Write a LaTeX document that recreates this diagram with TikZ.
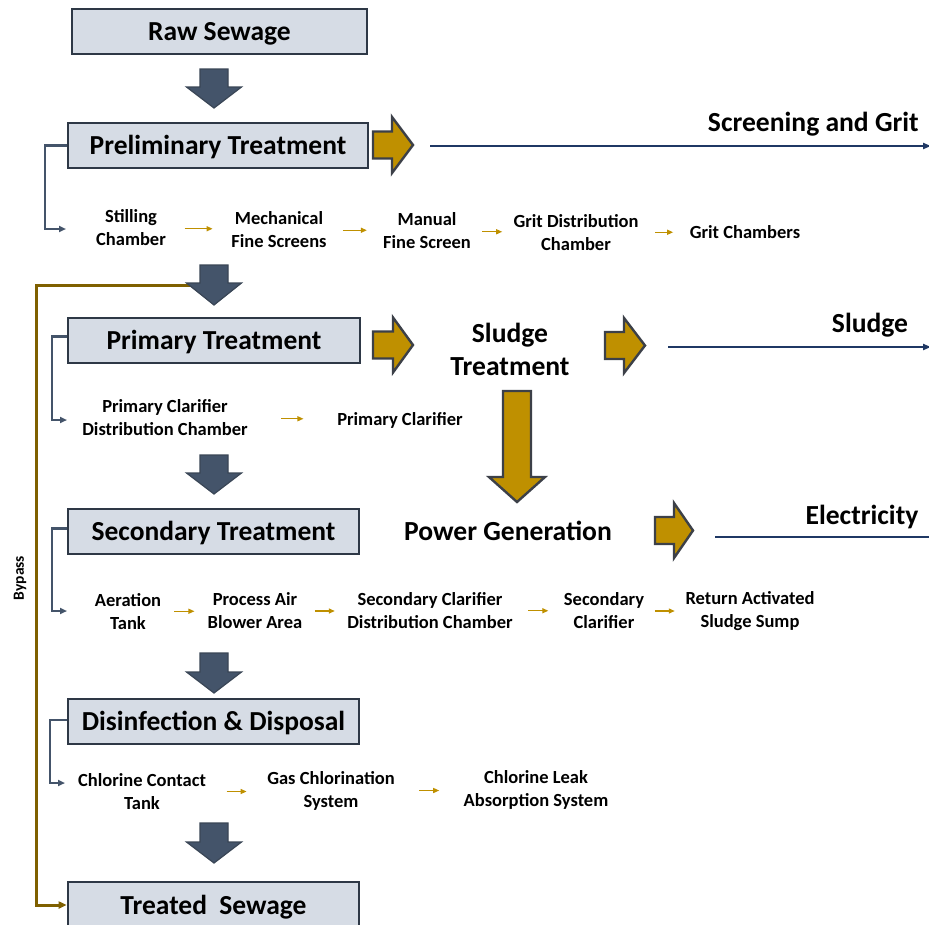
\documentclass[tikz,border=0pt]{standalone}
\usepackage{fontspec}
\setmainfont{Carlito}
\usetikzlibrary{arrows.meta,calc}
\definecolor{boxfill}{HTML}{D6DCE5}
\definecolor{boxline}{HTML}{2E3846}
\definecolor{darkarr}{HTML}{44546A}
\definecolor{darkarrline}{HTML}{3A4656}
\definecolor{gold}{HTML}{BF9000}
\definecolor{goldline}{HTML}{3C4048}
\definecolor{navy}{HTML}{1F3864}
\definecolor{elbowc}{HTML}{44546A}
\definecolor{bypassc}{HTML}{7F6000}
% style, cx, top, headstart, halfshaft, halfhead, tip
\newcommand\BlkDown[7]{\draw[#1] ({#2-#5},#3) -- ({#2+#5},#3) -- ({#2+#5},#4) -- ({#2+#6},#4) -- (#2,#7) -- ({#2-#6},#4) -- ({#2-#5},#4) -- cycle;}
% style, cy, left, headstart, halfshaft, halfhead, tip
\newcommand\BlkRight[7]{\draw[#1] (#3,{#2-#5}) -- (#4,{#2-#5}) -- (#4,{#2-#6}) -- (#7,#2) -- (#4,{#2+#6}) -- (#4,{#2+#5}) -- (#3,{#2+#5}) -- cycle;}
\begin{document}
\begin{tikzpicture}[x=1pt,y=-1pt,
  box/.style={draw=boxline,fill=boxfill,line width=2.8pt,inner sep=0pt,text depth=1pt,font=\fontsize{27.5}{33}\selectfont\bfseries},
  sub/.style={align=center,inner sep=0pt,font=\fontsize{18.5}{23}\selectfont\bfseries},
  side/.style={align=center,inner sep=0pt,font=\fontsize{27.6}{33}\selectfont\bfseries},
  darkblk/.style={fill=darkarr,draw=darkarrline,line width=1.2pt,line join=miter},
  goldblk/.style={fill=gold,draw=goldline,line width=2.4pt,line join=miter},
  outline/.style={draw=navy,line width=2.3pt,-{Triangle[length=8pt,width=6pt]}},
  plainline/.style={draw=navy,line width=2.4pt},
  smallarr/.style={draw=gold,line width=1.3pt,-{Triangle[length=6pt,width=5pt]}},
  elbow/.style={draw=elbowc,line width=2.6pt,-{Triangle[length=7pt,width=6pt]}},
  bypass/.style={draw=bypassc,line width=3pt,-{Triangle[length=8pt,width=7pt]}}
]
\useasboundingbox (0,0) rectangle (929,924);
\fill[white] (0,0) rectangle (929,924);

% main boxes
\node[box,minimum width=295,minimum height=45] (raw) at (219.5,31.5) {Raw Sewage};
\node[box,minimum width=300,minimum height=45] (pre) at (218,145.5) {Preliminary Treatment};
\node[box,minimum width=292,minimum height=45] (pri) at (214,340.5) {Primary Treatment};
\node[box,minimum width=291,minimum height=45] (sec) at (213.5,531.5) {Secondary Treatment};
\node[box,minimum width=291,minimum height=45] (dis) at (213.5,721.5) {Disinfection \& Disposal};
\node[box,minimum width=291,minimum height=46] (tre) at (213.5,905) {Treated~ Sewage};

% bypass
\coordinate (bp) at (192,285);
\draw[bypass] (bp) -- (36,285) |- (tre.west);
\node[sub,font=\fontsize{15.5}{18}\selectfont\bfseries,rotate=90] (bpl) at (20,578) {Bypass};

% dark down arrows
\BlkDown{darkblk}{214}{69}{87}{14}{27.5}{108}
\BlkDown{darkblk}{214}{265}{283}{14}{27.5}{305}
\BlkDown{darkblk}{214}{455}{473}{14}{27.5}{494}
\BlkDown{darkblk}{214}{653}{672}{14}{27.5}{693}
\BlkDown{darkblk}{214}{823}{842}{14}{27.5}{863}

% gold arrows
\BlkRight{goldblk}{145}{373}{392}{13.5}{28}{413}
\BlkRight{goldblk}{345}{373}{393}{13.5}{27.5}{413}
\BlkRight{goldblk}{345.5}{605}{624}{13.5}{27.5}{645}
\BlkRight{goldblk}{530.5}{655}{674}{13.5}{27.5}{693}
\BlkDown{goldblk}{517}{391}{477}{14}{28}{502}

% side texts
\node[side,anchor=east] (scr) at (919,124) {Screening and Grit};
\node[side] (sld) at (870,325) {Sludge};
\node[side] (ele) at (862,517) {Electricity};
\node[side] (st) at (510,349.5) {Sludge\\Treatment};
\node[side] (pg) at (508,531) {Power Generation};

% output lines
\coordinate (o1s) at (430,146); \coordinate (o1e) at (931,146);
\coordinate (o2s) at (668,347); \coordinate (o2e) at (931,347);
\coordinate (o3s) at (715,537); \coordinate (o3e) at (929,537);
\draw[outline] (o1s) -- (o1e);
\draw[outline] (o2s) -- (o2e);
\draw[plainline] (o3s) -- (o3e);

% row 1
\node[sub] (s11) at (131,228) {Stilling\\Chamber};
\node[sub] (s12) at (279,229.5) {Mechanical\\Fine Screens};
\node[sub] (s13) at (427,231) {Manual\\Fine Screen};
\node[sub] (s14) at (576,232.5) {Grit Distribution\\Chamber};
\node[sub] (s15) at (745,232) {Grit Chambers};
\coordinate (c1) at (66,229);
\draw[elbow] (pre.west) -- (45,145.5) |- (c1);
\draw[smallarr] ($(s11.east)!0.5!(s12.west)$) ++(-14,0) -- ++(28,0);
\draw[smallarr] ($(s12.east)!0.5!(s13.west)$) ++(-12,0) -- ++(24,0);
\draw[smallarr] ($(s13.east)!0.5!(s14.west)$) ++(-10,0) -- ++(20,0);
\draw[smallarr] ($(s14.east)!0.5!(s15.west)$) ++(-9,0) -- ++(18,0);

% row 2
\node[sub] (p1) at (165,417.5) {Primary Clarifier\\Distribution Chamber};
\node[sub] (p2) at (400,420) {Primary Clarifier};
\coordinate (c2) at (67,420);
\draw[elbow] ($(pri.west)+(0,-4)$) -- (52,336.5) |- (c2);
\draw[smallarr] ($(p1.east)!0.5!(p2.west)$) ++(-11,0) -- ++(22,0);

% row 3
\node[sub] (q1) at (128,611.5) {Aeration\\Tank};
\node[sub] (q2) at (255,611) {Process Air\\Blower Area};
\node[sub] (q3) at (430,611) {Secondary Clarifier\\Distribution Chamber};
\node[sub] (q4) at (604,610.5) {Secondary\\Clarifier};
\node[sub] (q5) at (750,611.5) {Return Activated\\Sludge Sump};
\coordinate (c3) at (67,611);
\draw[elbow] ($(sec.west)+(0,-3)$) -- (52,528.5) |- (c3);
\draw[smallarr] ($(q1.east)!0.5!(q2.west)$) ++(-10,0) -- ++(20,0);
\draw[smallarr] ($(q2.east)!0.5!(q3.west)$) ++(-10,0) -- ++(20,0);
\draw[smallarr] ($(q3.east)!0.5!(q4.west)$) ++(-10,0) -- ++(20,0);
\draw[smallarr] ($(q4.east)!0.5!(q5.west)$) ++(-10,0) -- ++(20,0);

% row 4
\node[sub] (d1) at (142,792) {Chlorine Contact\\Tank};
\node[sub] (d2) at (331,791) {Gas Chlorination\\System};
\node[sub] (d3) at (536,790) {Chlorine Leak\\Absorption System};
\coordinate (c4) at (65,783);
\draw[elbow] ($(dis.west)+(0,-1.5)$) -- (50,720) |- (c4);
\draw[smallarr] ($(d1.east)!0.5!(d2.west)$) ++(-10,0) -- ++(20,0);
\draw[smallarr] ($(d2.east)!0.5!(d3.west)$) ++(-10,0) -- ++(20,0);
\end{tikzpicture}
\end{document}
